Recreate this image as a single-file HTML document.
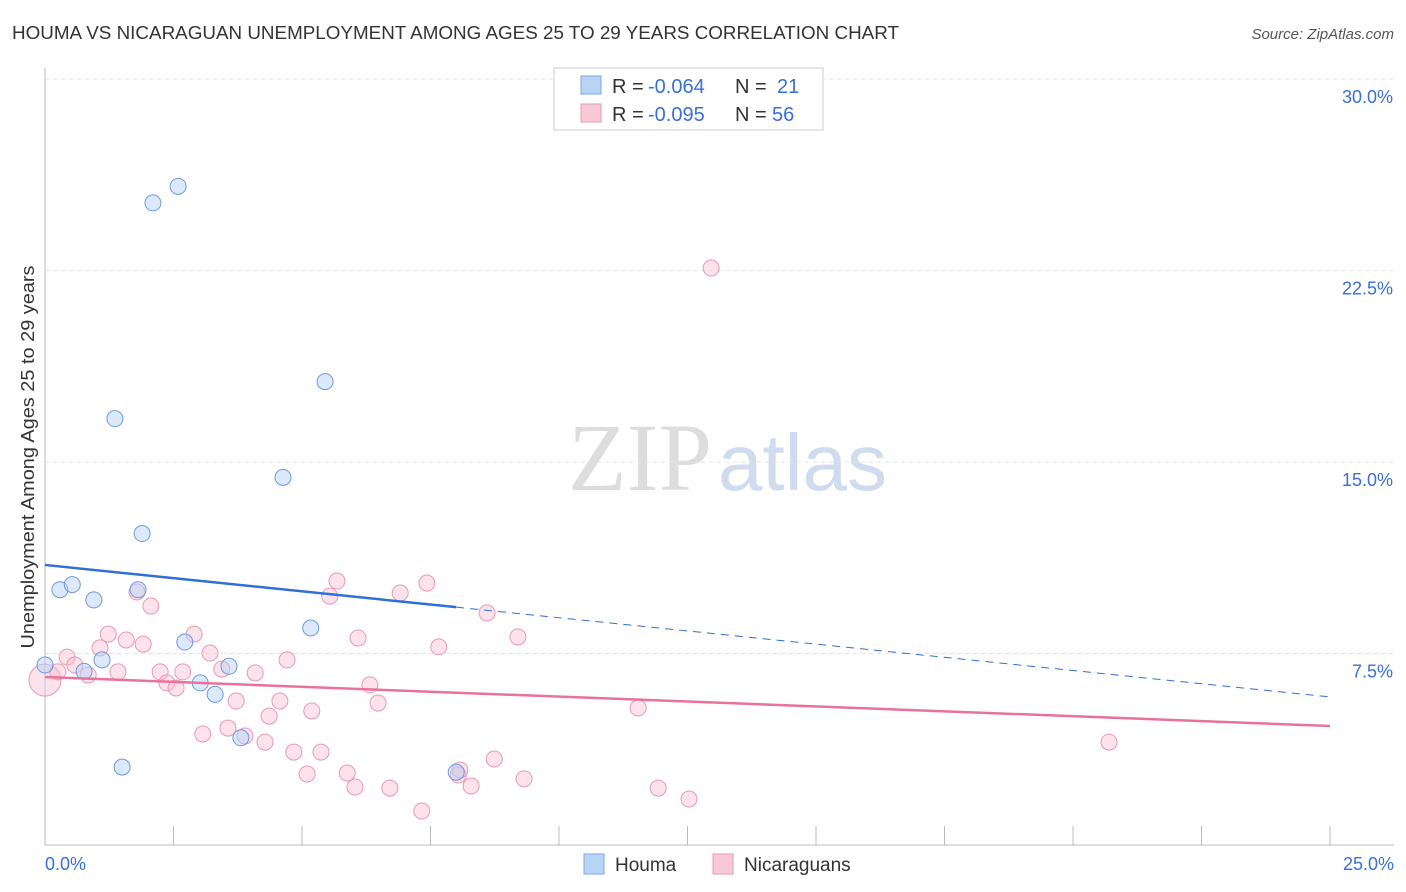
<!DOCTYPE html>
<html><head><meta charset="utf-8">
<style>
body{margin:0;background:#fff;width:1406px;height:892px;overflow:hidden;font-family:"Liberation Sans",sans-serif;}
svg{position:absolute;left:0;top:0;}
</style></head>
<body>
<svg id="chart" width="1406" height="892">
<text x="12" y="39" font-size="18" fill="#333" textLength="887" lengthAdjust="spacingAndGlyphs">HOUMA VS NICARAGUAN UNEMPLOYMENT AMONG AGES 25 TO 29 YEARS CORRELATION CHART</text>
<text x="1394" y="39" font-size="15" fill="#555" text-anchor="end" font-style="italic">Source: ZipAtlas.com</text>
<text x="712" y="490" font-size="96" fill="#ddd" text-anchor="end" font-family="Liberation Serif,serif">ZIP</text>
<text x="718" y="490" font-size="80" fill="#cfdcf0">atlas</text>
<text transform="translate(34,457) rotate(-90)" font-size="18" fill="#333" text-anchor="middle" textLength="383" lengthAdjust="spacingAndGlyphs">Unemployment Among Ages 25 to 29 years</text>
<g id="grid"></g><g id="marks"></g>
<g>
<rect x="554" y="68" width="269" height="62" fill="#fff" stroke="#ccc"/>
<rect x="581" y="76" width="20" height="18" fill="#b8d4f5" stroke="#7aa8e0"/>
<rect x="581" y="104" width="20" height="18" fill="#f9c8d6" stroke="#e89ab0"/>
<text y="93" font-size="20" fill="#333"><tspan x="612">R = </tspan><tspan x="648" fill="#3a6fd8">-0.064</tspan><tspan x="735">N = </tspan><tspan x="777" fill="#3a6fd8">21</tspan></text>
<text y="121" font-size="20" fill="#333"><tspan x="612">R = </tspan><tspan x="648" fill="#3a6fd8">-0.095</tspan><tspan x="735">N = </tspan><tspan x="772" fill="#3a6fd8">56</tspan></text>
</g>
<g>
<rect x="584" y="854" width="20" height="20" fill="#b8d4f5" stroke="#7aa8e0"/>
<text x="615" y="871" font-size="19" fill="#333">Houma</text>
<rect x="713" y="854" width="20" height="20" fill="#f9c8d6" stroke="#e89ab0"/>
<text x="744" y="871" font-size="19" fill="#333">Nicaraguans</text>
</g>
</svg>
<script>
const yTicks=[7.5,15,22.5,30];
const yTickLabels=["7.5%","15.0%","22.5%","30.0%"];
const xTickLabels=["0.0%","25.0%"];
const houmaX=[0,0.29,0.53,0.76,0.95,1.11,1.36,1.50,1.81,1.89,2.10,2.59,2.72,3.02,3.31,3.58,3.81,4.63,5.17,5.45,8.00];
const houmaY=[7.05,10.0,10.2,6.8,9.6,7.25,16.7,3.05,10.0,12.2,25.15,25.8,7.95,6.35,5.9,7.0,4.2,14.4,8.5,18.15,2.85];
const nicX=[0,0.25,0.43,0.58,0.84,1.07,1.23,1.42,1.58,1.79,1.91,2.06,2.24,2.37,2.55,2.68,2.90,3.07,3.21,3.44,3.56,3.72,3.89,4.09,4.28,4.36,4.57,4.71,4.84,5.10,5.19,5.37,5.54,5.68,5.88,6.03,6.09,6.32,6.48,6.71,6.91,7.33,7.43,7.66,8.04,8.07,8.29,8.60,8.74,9.20,9.32,11.54,11.93,12.53,12.96,20.70];
const nicY=[6.46,6.78,7.36,7.05,6.66,7.72,8.26,6.78,8.03,9.91,7.87,9.36,6.78,6.35,6.15,6.78,8.26,4.35,7.52,6.89,4.58,5.64,4.27,6.74,4.03,5.05,5.64,7.25,3.64,2.78,5.25,3.64,9.75,10.34,2.82,2.27,8.11,6.27,5.56,2.23,9.87,1.33,10.26,7.76,2.74,2.94,2.31,9.09,3.37,8.15,2.59,5.37,2.23,1.80,22.6,4.03];
const houmaTrend=[10.97,5.8], nicTrend=[6.58,4.66];
const X=v=>45+v/25*1285, Y=v=>845-v*25.53;
const NS="http://www.w3.org/2000/svg";
function mk(p,t,a){const e=document.createElementNS(NS,t);for(const k in a)e.setAttribute(k,a[k]);p.appendChild(e);return e;}
const g=document.getElementById('grid'), m=document.getElementById('marks');
yTicks.forEach((t,i)=>{
 const l=mk(g,'line',{x1:45,x2:1394,y1:Y(t),y2:Y(t),stroke:'#e3e3e3','stroke-dasharray':'4,4'});
 
 
 const tx=mk(g,'text',{x:1393,y:Y(t)+24,'font-size':18,fill:'#3a6fd8','text-anchor':'end'});tx.textContent=yTickLabels[i];
 
 
});
mk(g,'line',{x1:45,x2:45,y1:68,y2:845,stroke:'#bbb'});
mk(g,'line',{x1:45,x2:1394,y1:845,y2:845,stroke:'#bbb'});
for(let i=0;i<=10;i++){const x=X(i*2.5);const t=mk(g,'line',{x1:x,x2:x,y1:826,y2:845,stroke:'#bbb'});
 
 }
let a=mk(g,'text',{x:45,y:870,'font-size':18,fill:'#3a6fd8'});a.textContent=xTickLabels[0];


a=mk(g,'text',{x:1394,y:870,'font-size':18,fill:'#3a6fd8','text-anchor':'end'});a.textContent=xTickLabels[1];


nicX.forEach((x,i)=>{const c=mk(m,'circle',{cx:X(x),cy:Y(nicY[i]),r:i==0?16:8,fill:'rgba(249,190,208,0.45)',stroke:'#e89ab0','stroke-width':1});
 
 });
houmaX.forEach((x,i)=>{const c=mk(m,'circle',{cx:X(x),cy:Y(houmaY[i]),r:8,fill:'rgba(184,212,245,0.5)',stroke:'#6b9be0','stroke-width':1});
 
 });
const hy=v=>houmaTrend[0]+(houmaTrend[1]-houmaTrend[0])*v/25;
let l=mk(m,'line',{x1:X(0),y1:Y(hy(0)),x2:X(8),y2:Y(hy(8)),stroke:'#2f6fd6','stroke-width':2.5});


l=mk(m,'line',{x1:X(8),y1:Y(hy(8)),x2:X(25),y2:Y(hy(25)),stroke:'#2f6fd6','stroke-width':1,'stroke-dasharray':'8,6'});


l=mk(m,'line',{x1:X(0),y1:Y(nicTrend[0]),x2:X(25),y2:Y(nicTrend[1]),stroke:'#e8729a','stroke-width':2.5});


</script>
</body></html>
